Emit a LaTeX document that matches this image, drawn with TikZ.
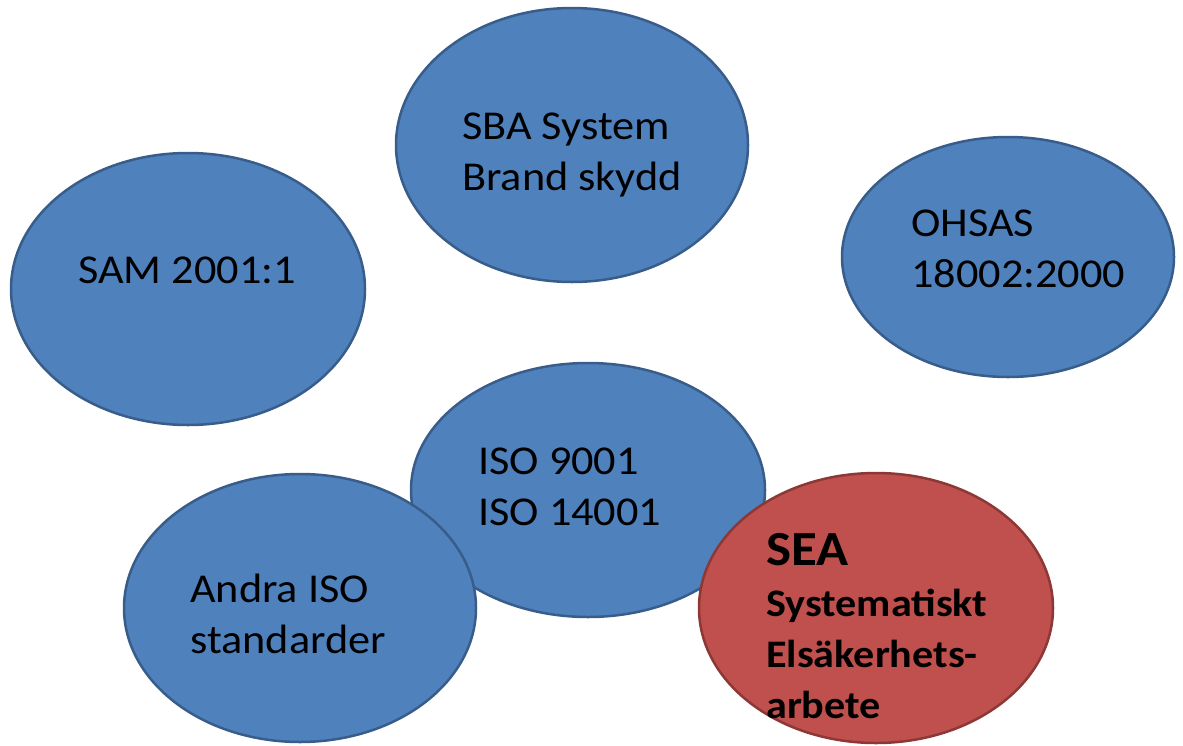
\documentclass[tikz,border=0pt]{standalone}
\usepackage{fontspec}
\setmainfont{Carlito}[FakeStretch=1.08]
\usepackage{xcolor}
\usepackage{tikz}
\definecolor{offblue}{RGB}{79,129,189}
\definecolor{offblueline}{RGB}{56,93,138}
\definecolor{offred}{RGB}{192,80,77}
\definecolor{offredline}{RGB}{140,56,54}
\tikzset{
  blob/.style={fill=offblue, draw=offblueline, line width=2.5pt},
  redblob/.style={fill=offred, draw=offredline, line width=2.5pt},
  lbl/.style={anchor=base west, align=left, inner sep=0pt, font=\fontsize{41}{51}\selectfont}
}
\begin{document}
\begin{tikzpicture}[x=1pt, y=-1pt]
\useasboundingbox (0,0) rectangle (1183,745);
% SBA brand
\draw[blob] (572,145) ellipse (176pt and 137pt);
\node[lbl] (sba) at (462,190) {SBA System\\Brand skydd};

% SAM
\draw[blob] (188,289) ellipse (177pt and 136pt);
\node[lbl] (sam) at (78,283) {SAM 2001:1};

% OHSAS
\draw[blob] (1008,257) ellipse (166pt and 120pt);
\node[lbl] (ohsas) at (911,287) {OHSAS\\18002:2000};

% ISO 9001 / 14001
\draw[blob] (588,490) ellipse (177pt and 127pt);
\node[lbl] (iso) at (478,525) {ISO 9001\\ISO 14001};

% Andra ISO
\draw[blob] (300,608) ellipse (176pt and 134pt);
\node[lbl] (andra) at (190,653) {Andra ISO\\standarder};

% SEA
\draw[redblob] (876,608) ellipse (177pt and 135pt);
\node[lbl, font=\bfseries\fontsize{39}{51}\selectfont] (sea) at (766,718)
  {{\fontsize{49}{51}\selectfont SEA}\\Systematiskt\\Elsäkerhets-\\arbete};
\end{tikzpicture}
\end{document}
